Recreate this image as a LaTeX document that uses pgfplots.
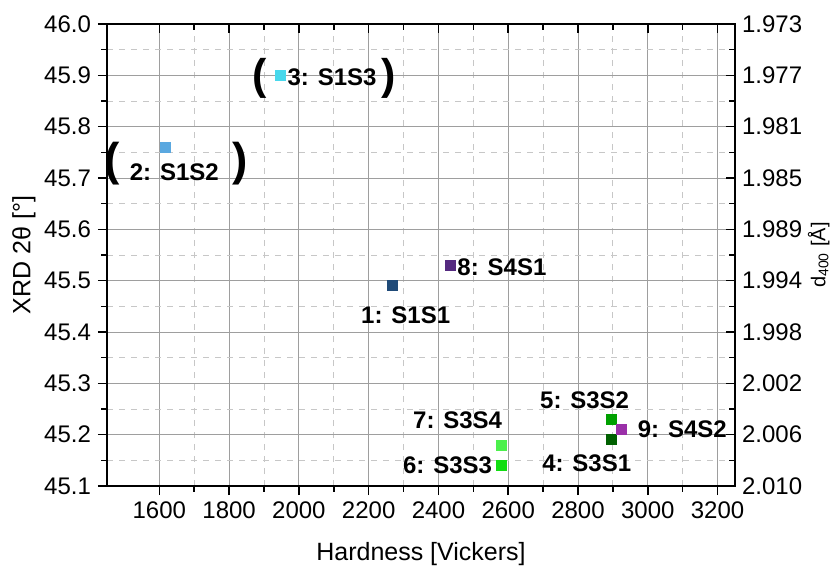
\documentclass[border=0pt]{standalone}
\usepackage{pgfplots}
\pgfplotsset{compat=1.18}
\usepackage{fontspec}
\setmainfont{Liberation Sans}
\definecolor{c1}{HTML}{1F4A78}
\definecolor{c2}{HTML}{5AA8E0}
\definecolor{c3}{HTML}{48D8EC}
\definecolor{c4}{HTML}{006000}
\definecolor{c5}{HTML}{00A000}
\definecolor{c6}{HTML}{11DD11}
\definecolor{c7}{HTML}{4CF04C}
\definecolor{c8}{HTML}{552A80}
\definecolor{c9}{HTML}{9A2FA8}
\newcommand{\lbl}{\bfseries\fontsize{12}{14}\selectfont}
\begin{document}
\begin{tikzpicture}
\pgfplotsset{
  common/.style={
    scale only axis, width=314pt, height=231pt,
    at={(0,0)}, anchor=south west,
    xmin=1450, xmax=3250, ymin=45.1, ymax=46.0,
    xtick={1600,1800,2000,2200,2400,2600,2800,3000,3200},
    ytick={45.1,45.2,45.3,45.4,45.5,45.6,45.7,45.8,45.9,46.0},
    minor x tick num=1, minor y tick num=1,
    axis line style={line width=1pt, black},
    every tick/.style={black, line width=0.8pt},
    major tick length=4.5pt, minor tick length=2.8pt,
    tick label style={font=\fontsize{12}{14}\selectfont},
    label style={font=\fontsize{12.5}{14}\selectfont},
    /pgf/number format/assume math mode=true,
  }
}
\begin{axis}[common,
  xtick pos=bottom, ytick pos=left, tick align=outside,
  grid=both,
  major grid style={line width=0.5pt, color=black!38},
  minor grid style={line width=0.4pt, color=black!22, dashed},
  xticklabel style={/pgf/number format/1000 sep={}},
  yticklabel style={/pgf/number format/.cd, fixed, fixed zerofill, precision=1},
  xlabel={Hardness [Vickers]},
  ylabel={XRD 2θ [°]},
  xlabel style={yshift=-5pt},
  ylabel style={yshift=-2.5pt},
  mark size=2.5pt,
]
\addplot[only marks, mark=square*, color=c1] coordinates {(2268,45.49)};
\addplot[only marks, mark=square*, color=c2] coordinates {(1618,45.76)};
\addplot[only marks, mark=square*, color=c3] coordinates {(1947,45.90)};
\addplot[only marks, mark=square*, color=c4] coordinates {(2895,45.19)};
\addplot[only marks, mark=square*, color=c5] coordinates {(2895,45.23)};
\addplot[only marks, mark=square*, color=c6] coordinates {(2580,45.14)};
\addplot[only marks, mark=square*, color=c7] coordinates {(2580,45.18)};
\addplot[only marks, mark=square*, color=c8] coordinates {(2434,45.53)};
\addplot[only marks, mark=square*, color=c9] coordinates {(2925,45.21)};
\node[font=\lbl] at (axis cs:2306,45.433) {1: S1S1};
\node[font=\lbl] at (axis cs:1643,45.712) {2: S1S2};
\node[font=\lbl] at (axis cs:2095,45.897) {3: S1S3};
\node[font=\lbl] at (axis cs:2825,45.145) {4: S3S1};
\node[font=\lbl] at (axis cs:2819,45.2675) {5: S3S2};
\node[font=\lbl] at (axis cs:2426,45.141) {6: S3S3};
\node[font=\lbl] at (axis cs:2455,45.2286) {7: S3S4};
\node[font=\lbl] at (axis cs:2582,45.527) {8: S4S1};
\node[font=\lbl] at (axis cs:3099,45.210) {9: S4S2};
\node[font=\bfseries\fontsize{23}{26}\selectfont] at (axis cs:1464,45.729) {(};
\node[font=\bfseries\fontsize{23}{26}\selectfont] at (axis cs:1833,45.729) {)};
\node[font=\bfseries\fontsize{21.5}{24}\selectfont] at (axis cs:1887,45.895) {(};
\node[font=\bfseries\fontsize{21.5}{24}\selectfont] at (axis cs:2256,45.895) {)};
\end{axis}
\begin{axis}[common,
  xtick pos=top, ytick pos=right, tick align=inside,
  xticklabels={{},{},{},{},{},{},{},{},{}}, yticklabel pos=right,
  yticklabels={2.010,2.006,2.002,1.998,1.994,1.989,1.985,1.981,1.977,1.973},
  ylabel={d\textsubscript{400} [Å]},
  ylabel near ticks,
  ylabel style={yshift=4pt},
]
\end{axis}
\pgfresetboundingbox
\useasboundingbox (-53.5pt,-41pt) rectangle (366pt,243pt);
\end{tikzpicture}
\end{document}
